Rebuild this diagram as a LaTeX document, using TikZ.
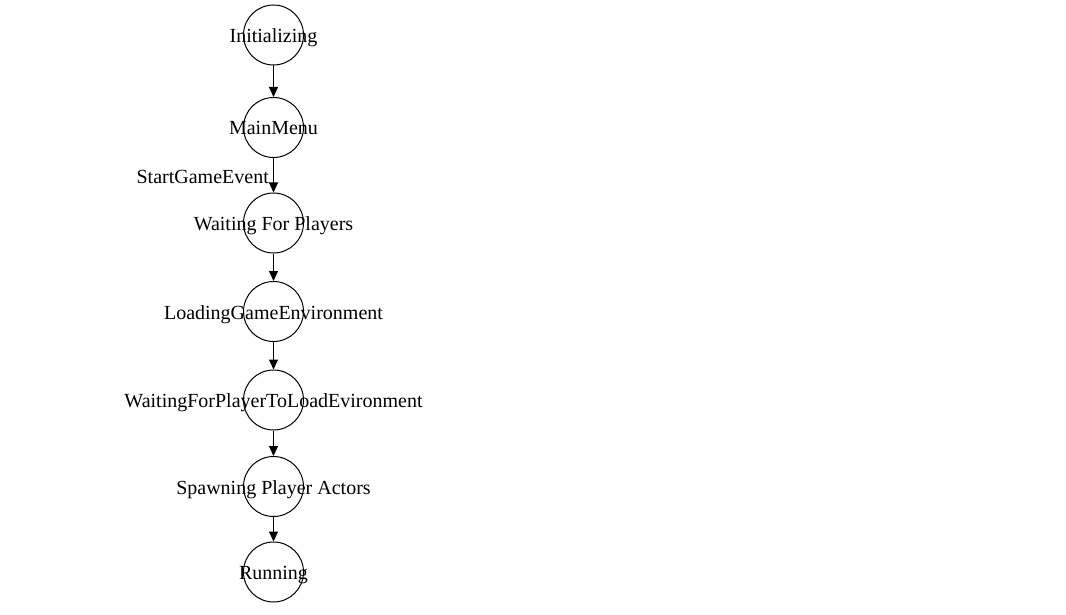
\documentclass[tikz,border=0pt]{standalone}
\usepackage{fontspec}
\setmainfont{Liberation Serif}
\usetikzlibrary{arrows.meta}
\begin{document}
\begin{tikzpicture}[x=1pt,y=-1pt,
  state/.style={draw,circle,minimum size=60pt,inner sep=0pt,line width=1pt},
  lbl/.style={font=\fontsize{20}{24}\selectfont,inner sep=0pt,text height=15pt,text depth=0pt},
  arr/.style={line width=1pt,-{Triangle[width=9pt,length=10pt]}}]
\useasboundingbox (0,0) rectangle (1066,615);
\node[state] (s1) at (273.5,35) {};
\node[state] (s2) at (273.5,127.5) {};
\node[state] (s3) at (273.5,223) {};
\node[state] (s4) at (273.5,311.5) {};
\node[state] (s5) at (273.5,400) {};
\node[state] (s6) at (273.5,486.5) {};
\node[state] (s7) at (273.5,572) {};
\node[lbl] (t1) at (s1) {Initializing};
\node[lbl] (t2) at (s2) {MainMenu};
\node[lbl] (t3) at (s3) {Waiting For Players};
\node[lbl] (t4) at (s4) {LoadingGameEnvironment};
\node[lbl] (t5) at (s5) {WaitingForPlayerToLoadEvironment};
\node[lbl] (t6) at (s6) {Spawning Player Actors};
\node[lbl] (t7) at (s7) {Running};
\draw[arr] (s1) -- (s2);
\draw[arr] (s2) -- (s3);
\draw[arr] (s3) -- (s4);
\draw[arr] (s4) -- (s5);
\draw[arr] (s5) -- (s6);
\draw[arr] (s6) -- (s7);
\node[lbl,anchor=base east,text height=,text depth=] (e1) at (269,183) {StartGameEvent};
\end{tikzpicture}
\end{document}
